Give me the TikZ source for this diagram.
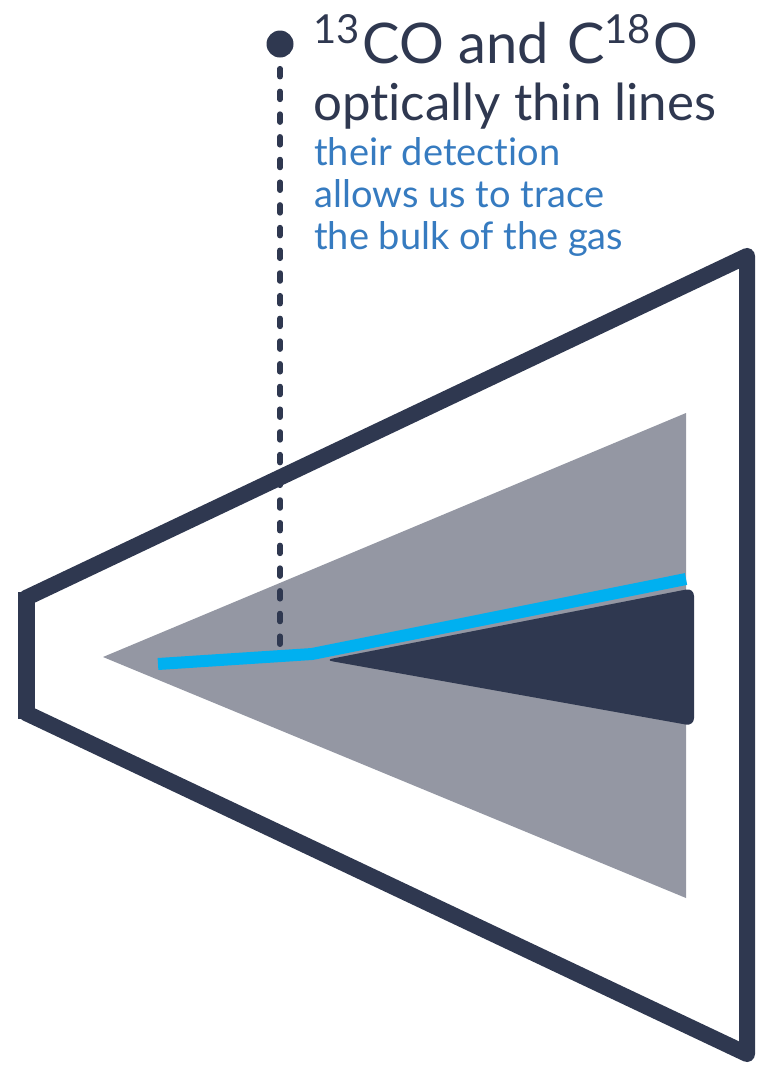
\documentclass[tikz,border=0pt]{standalone}
\usepackage{fontspec}
\setmainfont[Ligatures=NoCommon]{Lato}
\definecolor{navy}{HTML}{2F3850}
\definecolor{diskgray}{HTML}{9497A3}
\definecolor{lineblue}{HTML}{00B0F0}
\definecolor{textblue}{HTML}{367BC0}
\tikzset{
  outline/.style={draw=navy, line width=16pt, line join=round},
  headtext/.style={anchor=base west, inner sep=0pt, text=navy, font=\fontsize{56}{56}\selectfont},
  titletext/.style={anchor=base west, inner sep=0pt, text=navy, font=\fontsize{51}{51}\selectfont},
  bluetext/.style={anchor=base west, inner sep=0pt, text=textblue, font=\fontsize{38}{38}\selectfont},
  pointer/.style={draw=navy, line width=5.5pt, line cap=round, dash pattern=on 8pt off 14.7pt},
}
\newcommand{\isot}[1]{\raisebox{20pt}{\fontsize{40}{40}\selectfont #1}\hspace{3pt}}
\begin{document}
\begin{tikzpicture}[x=1pt,y=-1pt]
\useasboundingbox (0,0) rectangle (766,1066);
% gray cone
\fill[diskgray] (103,657) -- (686,413) -- (686,898) -- cycle;
% dark wedge
\fill[navy, rounded corners=8pt] (325,660) -- (694,588) -- (694,726) -- cycle;
% outer trapezoid
\draw[outline] (26,598) -- (747,256) -- (747,1054) -- (26,713) -- cycle;
\draw[draw=navy, line width=17pt] (26.5,592) -- (26.5,719);
% blue line
\coordinate (b1) at (158,664);
\coordinate (b2) at (312,654);
\coordinate (b3) at (686,579);
\draw[lineblue, line width=12pt] (b1) -- (b2) -- (b3);
% pointer
\node[circle, fill=navy, minimum size=27pt, inner sep=0pt] (dot) at (280,44) {};
\coordinate (foot) at (280,650);
\draw[pointer] (dot.south) ++(0,11) -- (foot);
% texts
\node[headtext] (t1) at (313,63) {\isot{13}CO and\hspace{4pt} C\isot{18}O};
\node[titletext] (t2) at (313,120) {optically thin lines};
\node[bluetext] (t3) at (314,165) {their detection};
\node[bluetext] (t4) at (314,207) {allows us to trace};
\node[bluetext] (t5) at (314,249) {the bulk of the gas};
\end{tikzpicture}
\end{document}
